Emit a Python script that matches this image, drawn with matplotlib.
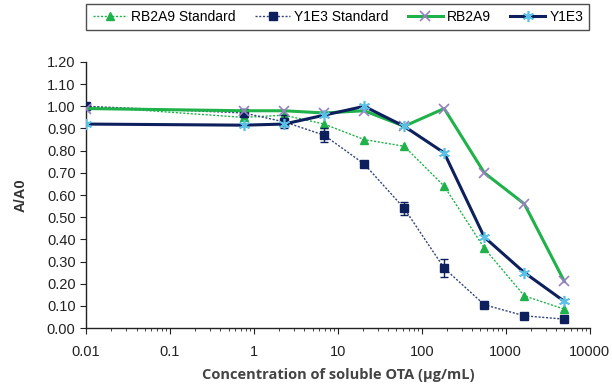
import numpy as np
import matplotlib.pyplot as plt
from matplotlib.lines import Line2D
from matplotlib.ticker import LogLocator, FixedLocator, NullFormatter

# concentrations (ug/mL), 3-fold dilutions plus blank
conc = [0.01, 0.76, 2.29, 6.86, 20.6, 61.7, 185, 556, 1667, 5000]

rb2a9_std = [1.00, 0.95, 0.96, 0.92, 0.85, 0.82, 0.64, 0.36, 0.145, 0.085]
y1e3_std = [1.00, 0.97, 0.93, 0.87, 0.74, 0.54, 0.27, 0.105, 0.055, 0.04]
y1e3_std_err = [0.0, 0.02, 0.03, 0.03, 0.0, 0.03, 0.04, 0.0, 0.0, 0.0]
rb2a9 = [0.99, 0.98, 0.98, 0.97, 0.98, 0.91, 0.99, 0.70, 0.56, 0.21]
y1e3 = [0.92, 0.915, 0.92, 0.96, 1.00, 0.91, 0.79, 0.41, 0.25, 0.12]

green = "#1fb24a"
navy = "#0d1f5c"
dotted = (0, (1.5, 1.2))

plt.rcParams['font.family'] = ['Liberation Sans', 'DejaVu Sans']

fig = plt.figure(figsize=(6.12, 3.85), dpi=100)
ax = fig.add_axes([0.1405, 0.148, 0.823, 0.691])

h1, = ax.plot(conc, rb2a9_std, ls=dotted, lw=1, c=green, marker='^', ms=6,
              mfc=green, mec=green, zorder=3)
ax.errorbar(conc, y1e3_std, yerr=y1e3_std_err, ls=dotted, lw=1, c="#33447a",
            marker='s', ms=6, mfc=navy, mec=navy, ecolor=navy, elinewidth=1,
            capsize=3, zorder=3)
h3, = ax.plot(conc, rb2a9, ls='-', lw=2.2, c=green, marker='x', ms=7, mew=1.2,
              mec="#9b7fc4", zorder=4)
h4, = ax.plot(conc, y1e3, ls='-', lw=2.2, c=navy, marker=(6, 2, 0), ms=8, mew=1.2,
              mec="#5bc0e6", zorder=4)
# legend proxy for the error-bar series (no bars in the key)
h2 = Line2D([], [], ls=dotted, lw=1, c="#33447a", marker='s', ms=6, mfc=navy, mec=navy)

ax.set_xscale('log')
ax.set_xlim(0.01, 10000)
ax.set_ylim(0, 1.2)
ax.set_yticks(np.arange(0, 1.21, 0.1))
ax.set_yticklabels([f"{v:.2f}" for v in np.arange(0, 1.21, 0.1)])
ax.xaxis.set_major_locator(FixedLocator([0.01, 0.1, 1, 10, 100, 1000, 10000]))
ax.set_xticklabels(["0.01", "0.1", "1", "10", "100", "1000", "10000"])
ax.xaxis.set_minor_locator(LogLocator(base=10, subs=np.arange(2, 10), numticks=20))
ax.xaxis.set_minor_formatter(NullFormatter())

for s in ['top', 'right']:
    ax.spines[s].set_visible(False)
for s in ['left', 'bottom']:
    ax.spines[s].set_color('#222222')
    ax.spines[s].set_linewidth(1)
ax.tick_params(axis='both', which='major', direction='out', length=4, color='#222222',
               labelsize=10.5, labelcolor='#222222')
ax.tick_params(axis='x', which='minor', direction='out', length=2.5, color='#222222')
ax.tick_params(axis='x', which='major', pad=8)

ax.set_ylabel("A/A0", fontsize=10.5, fontweight='bold', color='#333333', labelpad=14)
ax.set_xlabel("Concentration of soluble OTA (µg/mL)", fontsize=10.5, fontweight='bold',
              color='#444444', family=['Open Sans', 'DejaVu Sans'], labelpad=7)

leg = ax.legend([h1, h2, h3, h4],
                ["RB2A9 Standard", "Y1E3 Standard", "RB2A9", "Y1E3"],
                loc='lower center', bbox_to_anchor=(0.5, 1.094), ncol=4, frameon=True,
                fancybox=False, edgecolor='#222222', fontsize=10, handlelength=2.5,
                columnspacing=1.4, handletextpad=0.3, borderpad=0.45)
leg.get_frame().set_linewidth(1)

fig.savefig("out.png", dpi=100)
